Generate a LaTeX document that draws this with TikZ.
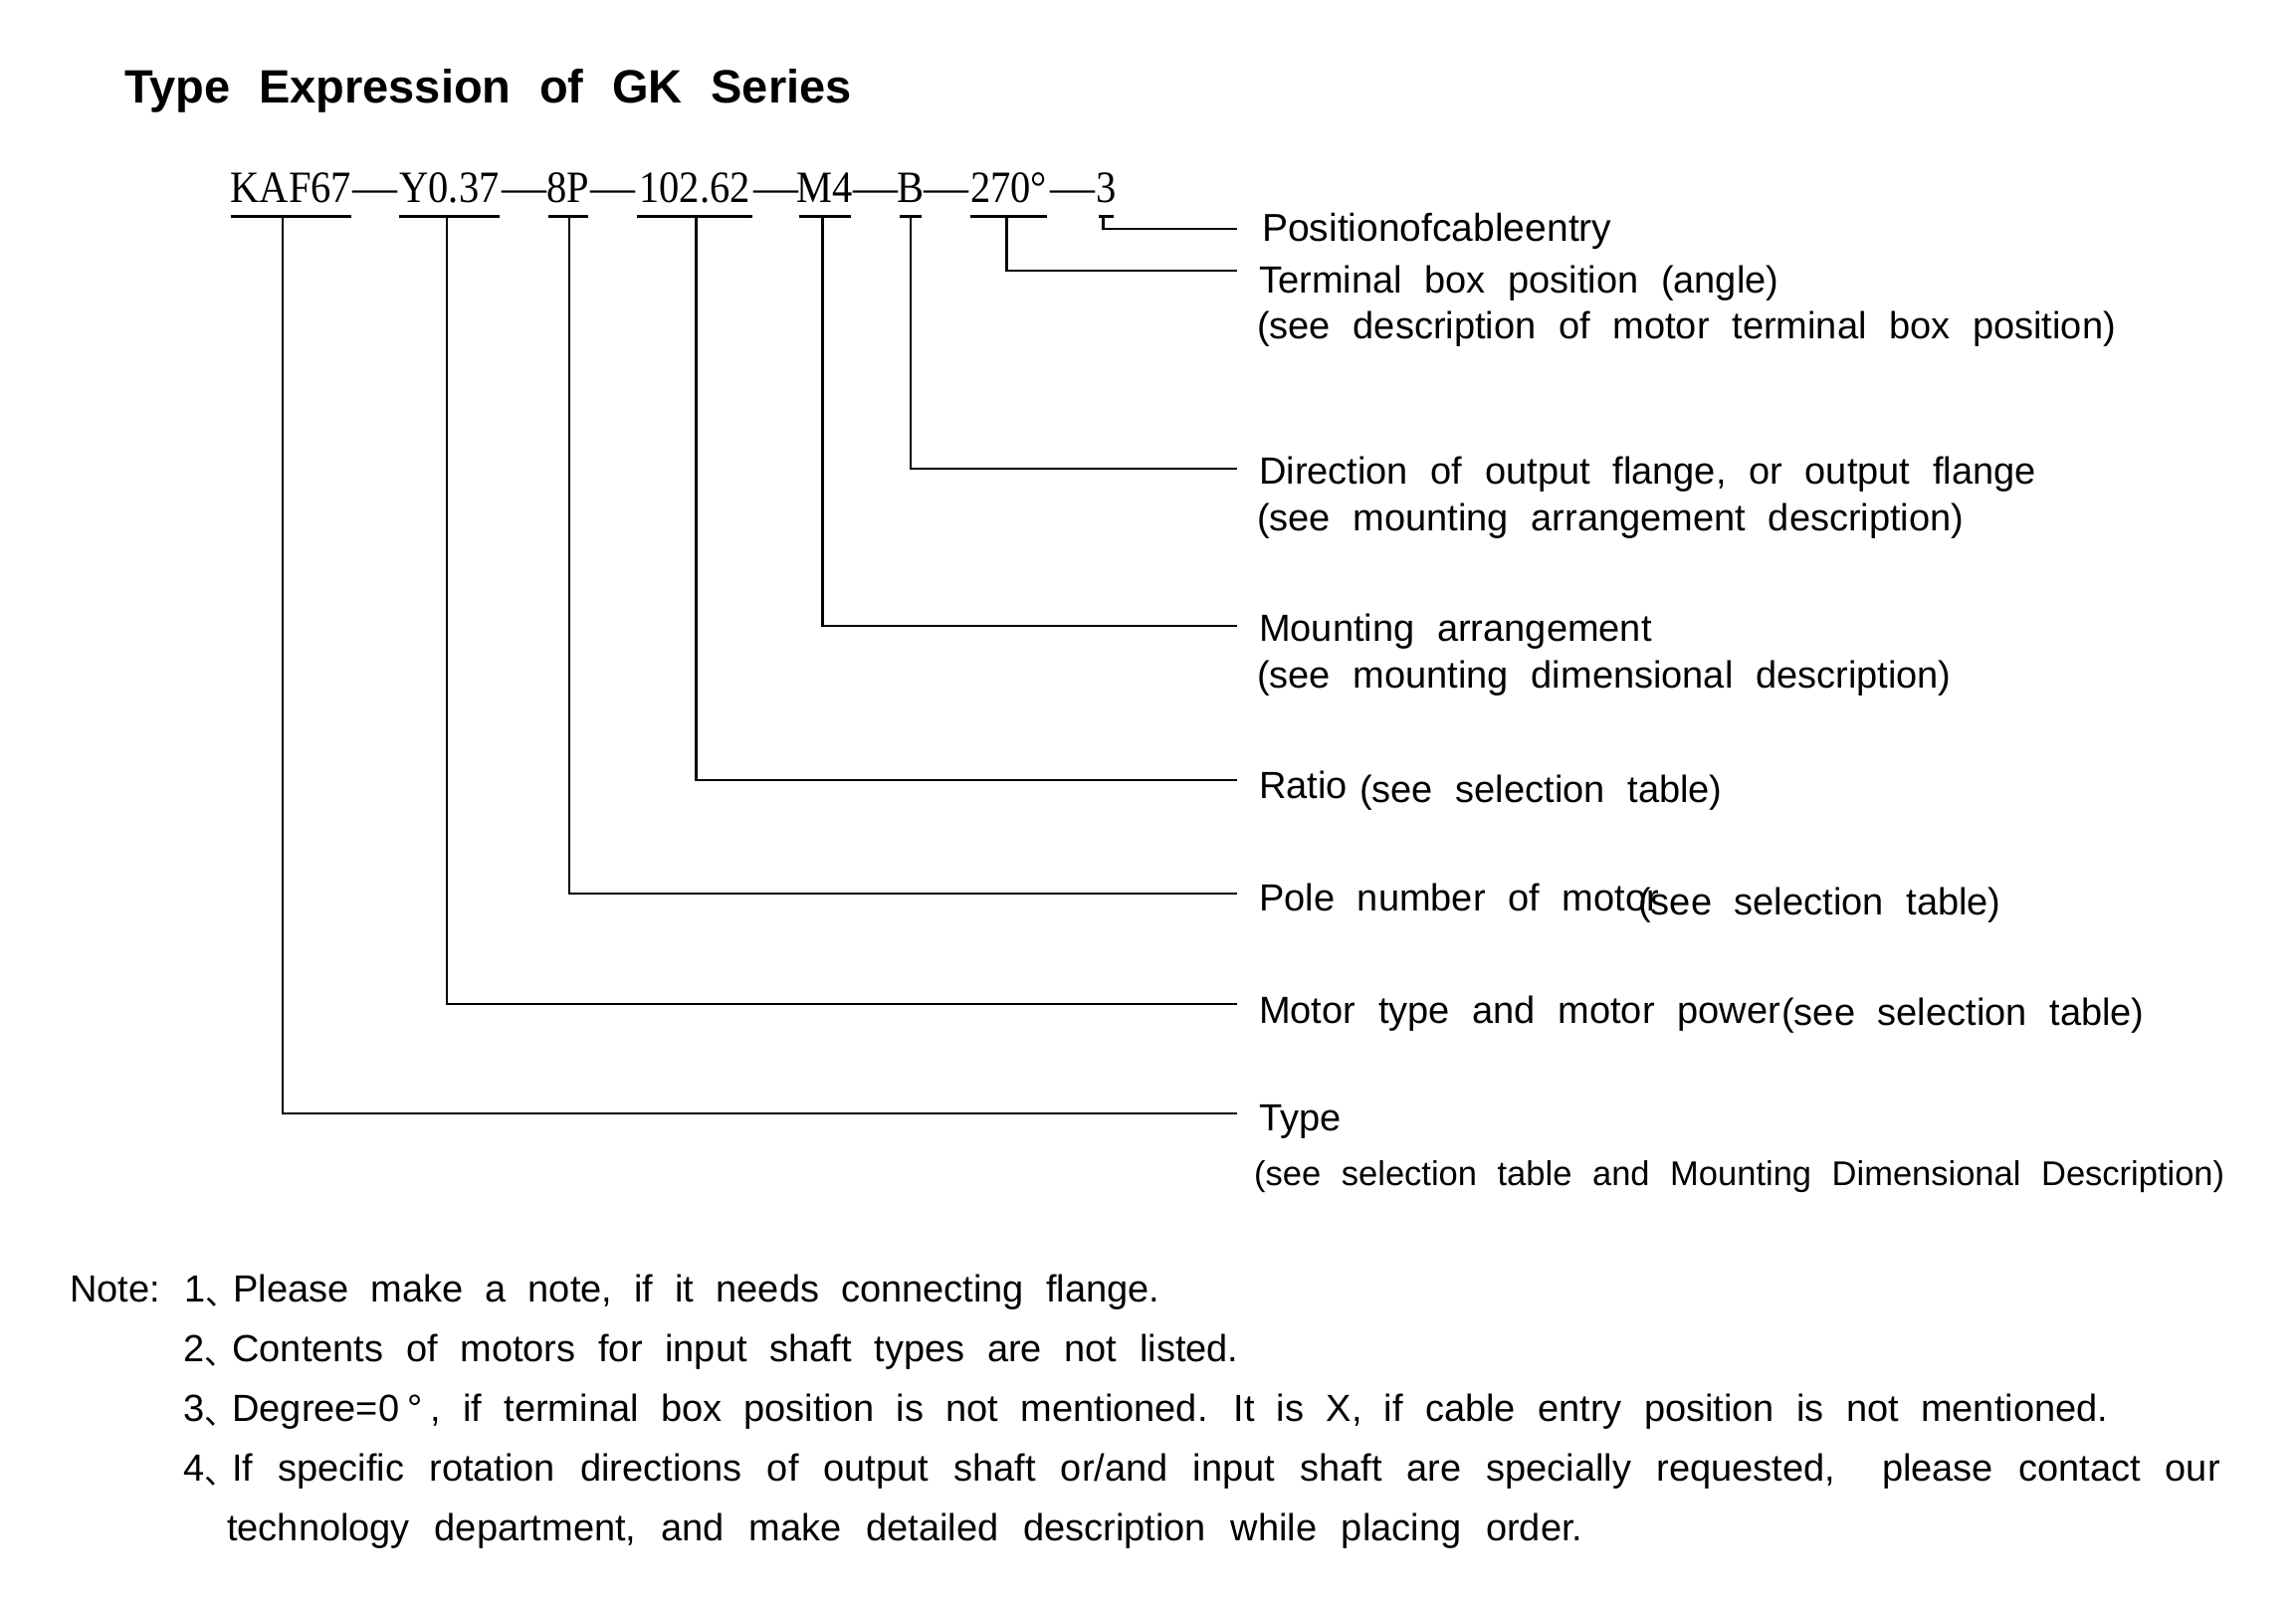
\documentclass[tikz,border=0pt]{standalone}
\usepackage{fontspec}
\setmainfont{Liberation Sans}[WordSpace=2.15]
\newfontfamily\titlefont{Liberation Sans}[WordSpace=2.2]
\newfontfamily\codefont{Liberation Serif}[FakeStretch=0.9]
\newfontfamily\codedashfont{Liberation Serif}
\newfontfamily\cjkfont{Noto Sans CJK SC}[CharacterWidth=AlternateHalf]
\newcommand\dunhao{\makebox[28pt][l]{\raisebox{-3pt}{\cjkfont\fontsize{32}{32}\selectfont 、}}}
\tikzset{
  lbl/.style={anchor=base west, inner sep=0pt, font=\fontsize{38}{46}\selectfont},
  sublbl/.style={anchor=base west, inner sep=0pt, font=\fontsize{34.5}{40}\selectfont},
  codeseg/.style={anchor=base, inner sep=0pt, font=\codefont\fontsize{45}{50}\selectfont},
  codedash/.style={anchor=base, inner sep=0pt, font=\codedashfont\fontsize{45}{50}\selectfont},
  conn/.style={line width=2.5pt, line cap=butt},
  uline/.style={line width=3pt},
}
\begin{document}
\begin{tikzpicture}[x=1pt,y=-1pt]
\useasboundingbox (0,0) rectangle (2307,1610);
\fill[white] (0,0) rectangle (2307,1610);
% title
\node[anchor=base west, inner sep=0pt, font=\titlefont\bfseries\fontsize{47}{56}\selectfont] (title) at (125,103) {Type Expression of GK Series};
% code segments
\node[codeseg] (sK) at (292.5,203) {KAF67};
\node[codedash] (d1) at (377,203) {—};
\node[codeseg] (sY) at (451.5,203) {Y0.37};
\node[codedash] (d2) at (526.5,203) {—};
\node[codeseg] (sP) at (571,203) {8P};
\node[codedash] (d3) at (615.5,203) {—};
\node[codeseg] (sR) at (698,203) {102.62};
\node[codedash] (d4) at (779.5,203) {—};
\node[codeseg] (sM) at (829,203) {M4};
\node[codedash] (d5) at (879.5,203) {—};
\node[codeseg] (sB) at (915,203) {B};
\node[codedash] (d6) at (950.5,203) {—};
\node[codeseg] (sA) at (1013.5,203) {270°};
\node[codedash] (d7) at (1078,203) {—};
\node[codeseg] (sC) at (1111.5,203) {3};
% underlines
\draw[uline] (232,217.5) -- (353,217.5);
\draw[uline] (401,217.5) -- (502,217.5);
\draw[uline] (551,217.5) -- (591,217.5);
\draw[uline] (640,217.5) -- (756,217.5);
\draw[uline] (803,217.5) -- (855,217.5);
\draw[uline] (904,217.5) -- (926,217.5);
\draw[uline] (975,217.5) -- (1052,217.5);
\draw[uline] (1104,217.5) -- (1119,217.5);
% labels
\node[lbl, font=\fontsize{39}{46}\selectfont] (lPos) at (1268,242) {Positionofcableentry};
\node[lbl] (lTerm) at (1265,294) {Terminal box position (angle)};
\node[lbl] (lTermB) at (1263,340) {(see description of motor terminal box position)};
\node[lbl] (lDir) at (1265,486) {Direction of output flange, or output flange};
\node[lbl] (lDirB) at (1263,533) {(see mounting arrangement description)};
\node[lbl] (lMnt) at (1265,644) {Mounting arrangement};
\node[lbl] (lMntB) at (1263,691) {(see mounting dimensional description)};
\node[lbl] (lRat) at (1265,802) {Ratio};
\node[lbl] (lRatB) at (1366,806) {(see selection table)};
\node[lbl] (lPol) at (1265,915) {Pole number of motor};
\node[lbl] (lPolB) at (1646,919) {(see selection table)};
\node[lbl] (lMot) at (1265,1028) {Motor type and motor power};
\node[lbl] (lMotB) at (1790,1030) {(see selection table)};
\node[lbl] (lTyp) at (1265,1136) {Type};
\node[sublbl] (lTypB) at (1260,1191) {(see selection table and Mounting Dimensional Description)};
% connector coordinates
\coordinate (vK) at (284,217.5);   \coordinate (eK) at (1243,1119);
\coordinate (vY) at (449,217.5);   \coordinate (eY) at (1243,1009);
\coordinate (vP) at (572,217.5);   \coordinate (eP) at (1243,898);
\coordinate (vR) at (699.5,217.5); \coordinate (eR) at (1243,784);
\coordinate (vM) at (826.5,217.5); \coordinate (eM) at (1243,629);
\coordinate (vB) at (915,217.5);   \coordinate (eB) at (1243,471);
\coordinate (vA) at (1011.5,217.5);\coordinate (eA) at (1243,272);
\coordinate (vC) at (1108.5,217.5);\coordinate (eC) at (1243,230);
\draw[conn] (vK) |- (eK);
\draw[conn] (vY) |- (eY);
\draw[conn] (vP) |- (eP);
\draw[conn] (vR) |- (eR);
\draw[conn] (vM) |- (eM);
\draw[conn] (vB) |- (eB);
\draw[conn] (vA) |- (eA);
\draw[conn] (vC) |- (eC);
% notes
\node[lbl] (note) at (70,1308) {Note:};
\node[lbl] (n1) at (185,1308) {\spaceskip=22.1pt\relax 1\dunhao Please make a note, if it needs connecting flange.};
\node[lbl] (n2) at (184,1368) {2\dunhao Contents of motors for input shaft types are not listed.};
\node[lbl] (n3) at (184,1428) {\spaceskip=22.3pt\relax 3\dunhao Degree=0\hspace{8pt}°\hspace{8pt}, if terminal box position is not mentioned. It is X, if cable entry position is not mentioned.};
\node[lbl] (n4) at (184,1488) {\spaceskip=25.1pt\relax 4\dunhao If specific rotation directions of output shaft or/and input shaft are specially requested,\hspace{22pt} please contact our};
\node[lbl] (n5) at (228,1548) {\spaceskip=24.8pt\relax technology department, and make detailed description while placing order.};
\end{tikzpicture}
\end{document}
